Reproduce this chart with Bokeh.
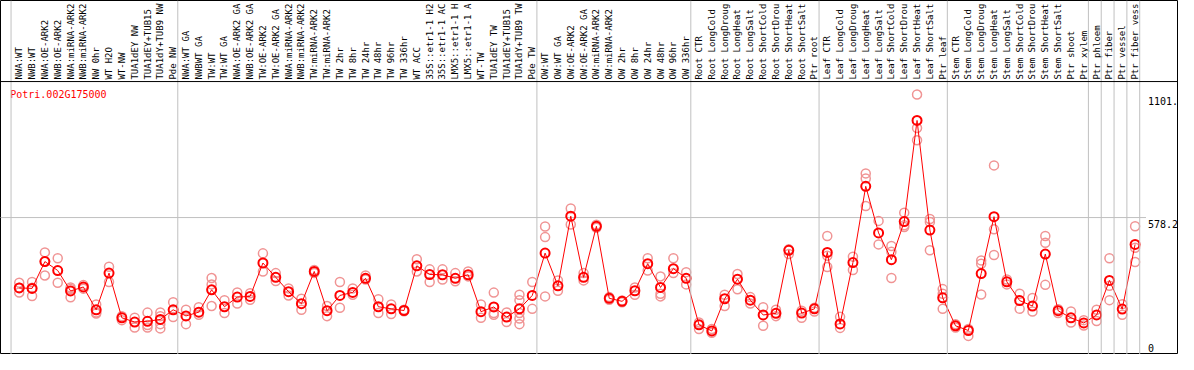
import math
from bokeh.plotting import figure
from bokeh.models import Range1d, Span
from bokeh.core.properties import value
from bokeh.embed import file_html
from bokeh.resources import INLINE

gene = "Potri.002G175000"

labels = [
    # group 1
    "NWA:WT", "NWB:WT", "NWA:OE-ARK2", "NWB:OE-ARK2", "NWA:miRNA-ARK2", "NWB:miRNA-ARK2",
    "NW 0hr", "WT H2O", "WT-NW", "TUA1dEY NW", "TUA1dEY+TUB15", "TUA1dY+TUB9 NW", "Pde NW",
    # group 2
    "NWA:WT GA", "NWBWT GA", "TW:WT", "TW:WT GA", "NWA:OE-ARK2 GA", "NWB:OE-ARK2 GA",
    "TW:OE-ARK2", "TW:OE-ARK2 GA", "NWA:miRNA-ARK2", "NWB:miRNA-ARK2", "TW:miRNA-ARK2",
    "TW:miRNA-ARK2", "TW 2hr", "TW 8hr", "TW 24hr", "TW 48hr", "TW 96hr", "TW 336hr",
    "WT ACC", "35S::etr1-1 H2", "35S::etr1-1 AC", "LMX5::etr1-1 H", "LMX5::etr1-1 A",
    "WT-TW", "TUA1dEY TW", "TUA1dEY+TUB15", "TUA1dY+TUB9 TW", "Pde TW",
    # group 3
    "OW:WT", "OW:WT GA", "OW:OE-ARK2", "OW:OE-ARK2 GA", "OW:miRNA-ARK2", "OW:miRNA-ARK2",
    "OW 2hr", "OW 8hr", "OW 24hr", "OW 48hr", "OW 96hr", "OW 336hr",
    # group 4
    "Root CTR", "Root LongCold", "Root LongDroug", "Root LongHeat", "Root LongSalt",
    "Root ShortCold", "Root ShortDrou", "Root ShortHeat", "Root ShortSalt", "Ptr root",
    # group 5
    "Leaf CTR", "Leaf LongCold", "Leaf LongDroug", "Leaf LongHeat", "Leaf LongSalt",
    "Leaf ShortCold", "Leaf ShortDrou", "Leaf ShortHeat", "Leaf ShortSalt", "Ptr leaf",
    # group 6
    "Stem CTR", "Stem LongCold", "Stem LongDroug", "Stem LongHeat", "Stem LongSalt",
    "Stem ShortCold", "Stem ShortDrou", "Stem ShortHeat", "Stem ShortSalt", "Ptr shoot",
    "Ptr xylem",
    # singles
    "Ptr phloem", "Ptr fiber", "Ptr vessel", "Ptr fiber vess",
]

group_sizes = [13, 28, 12, 10, 10, 11, 1, 1, 1, 1]

means = [
    279, 277, 391, 353, 266, 283, 186, 342, 152, 134, 137, 145, 186,
    160, 176, 271, 199, 240, 243, 385, 324, 263, 212, 349, 182, 247, 260, 320,
    199, 190, 183, 373, 336, 335, 320, 335, 178, 198, 155, 190, 247,
    427, 288, 584, 324, 541, 235, 222, 267, 382, 281, 361, 320,
    122, 96, 233, 316, 227, 164, 171, 439, 172, 190,
    430, 126, 387, 711, 513, 399, 561, 991, 525, 237,
    118, 98, 340, 582, 305, 225, 202, 423, 182, 152, 130,
    164, 311, 189, 464,
]

replicates = [
    [301, 259, 280], [304, 245, 280], [430, 332, 392], [405, 301], [281, 239, 274],
    [291, 276], [209, 170, 175], [369, 304], [159, 142], [152, 111],
    [174, 111, 121], [175, 159, 125, 107], [218, 155],
    [186, 125], [197, 165], [321, 294, 202], [227, 172], [260, 213],
    [256, 229], [426, 349], [342, 308], [277, 247], [233, 186],
    [355, 342], [202, 159], [304, 195], [277, 250], [332, 315],
    [231, 172], [209, 168], [186, 180], [401, 349], [358, 304],
    [358, 315], [342, 307], [349, 328], [209, 152], [259, 165, 172],
    [175, 134], [250, 227, 172, 149, 125], [304, 190],
    [540, 495, 243], [311, 267], [617, 549], [342, 311], [548, 535],
    [240, 229], [226, 218], [281, 250], [405, 353], [328, 254, 243],
    [405, 342], [346, 294],
    [132, 104], [88, 104], [250, 202], [338, 273], [240, 213],
    [197, 118], [186, 159], [443, 423], [182, 152], [195, 179],
    [500, 416, 368], [156, 109], [412, 355], [766, 744, 627], [564, 464],
    [457, 433, 321], [599, 538, 545], [1101, 959, 907], [572, 559, 439], [274, 254, 190],
    [125, 111], [104, 75], [396, 382, 251], [800, 528, 419], [315, 294],
    [254, 190], [236, 179], [500, 471, 292], [172, 188], [179, 132], [142, 119],
    [186, 138], [405, 288, 227], [210, 165], [541, 450, 389],
]

y_axis_top = 1156.4
tick_values = [1101.3, 578.2, 0]
tick_texts = ["1101.", "578.2", "0"]

FONT = value("DejaVu Sans Mono")
RED = "#ff0000"
PINK = "#f09494"
GREY = "#c0c0c0"

n = len(labels)
idx = list(range(n))

W, H = 1178, 354
p = figure(width=W, height=H,
           x_range=Range1d(-19 / 13, (1194 - 19) / 13),
           y_range=Range1d(-4.07, 1501),
           output_backend="svg", toolbar_location=None, min_border=0)
p.axis.visible = False
p.grid.visible = False
p.outline_line_color = "black"
p.outline_line_width = 1
p.background_fill_color = "white"
p.border_fill_color = "white"

# vertical group separators
pos = 0
bounds = [0]
for g in group_sizes:
    pos += g
    bounds.append(pos)
for b in bounds:
    p.add_layout(Span(location=b - 0.64, dimension="height", line_color=GREY, line_width=1))

# header separator line
p.add_layout(Span(location=y_axis_top, dimension="width", line_color="black", line_width=1))

# mid grey line
p.segment(x0=[-1.5], y0=[tick_values[1]], x1=[n - 0.15], y1=[tick_values[1]],
          line_color=GREY, line_width=1)

# replicate points
rx, ry = [], []
for i, reps in enumerate(replicates):
    for v in reps:
        rx.append(i)
        ry.append(v)
p.scatter(rx, ry, size=9, marker="circle", fill_color=None, line_color=PINK, line_width=1.5)

# mean line and points
p.line(idx, means, line_color=RED, line_width=1)
p.scatter(idx, means, size=9, marker="circle", fill_color=None, line_color=RED, line_width=2)

# rotated category labels
p.text(x=idx, y=[y_axis_top] * n, text=labels, angle=math.pi / 2,
       text_align="left", text_baseline="middle", y_offset=-2,
       text_font=FONT, text_font_size="9px", text_color="black")

# gene name
p.text(x=[0], y=[y_axis_top], text=[gene], x_offset=-9, y_offset=7,
       text_align="left", text_baseline="top",
       text_font=FONT, text_font_size="10px", text_color=RED)

# value labels on the right
p.text(x=[n, n], y=tick_values[:2], text=tick_texts[:2], y_offset=2,
       text_align="left", text_baseline="top",
       text_font=FONT, text_font_size="10px", text_color="black")
p.text(x=[n], y=tick_values[2:], text=tick_texts[2:], y_offset=-2,
       text_align="left", text_baseline="bottom",
       text_font=FONT, text_font_size="10px", text_color="black")

open("out.html", "w").write(file_html(p, INLINE))
